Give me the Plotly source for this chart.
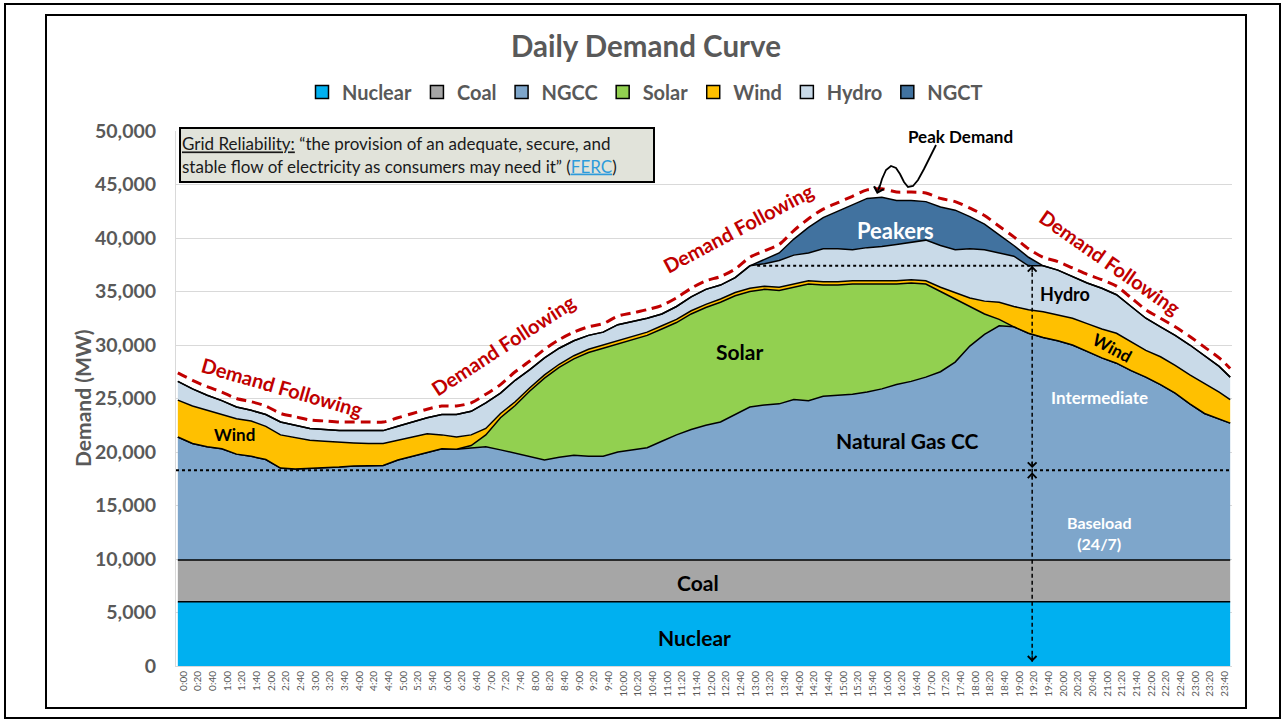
import numpy as np
import plotly.graph_objects as go

# ---- data (MW), sampled every 20 minutes from 0:00 to 23:40, plus the 23:55 end point
minutes = list(range(0, 1440, 20)) + [1435]

nuclear = [
    6000, 6000, 6000, 6000, 6000, 6000, 6000, 6000, 6000, 6000, 6000, 6000,
    6000, 6000, 6000, 6000, 6000, 6000, 6000, 6000, 6000, 6000, 6000, 6000,
    6000, 6000, 6000, 6000, 6000, 6000, 6000, 6000, 6000, 6000, 6000, 6000,
    6000, 6000, 6000, 6000, 6000, 6000, 6000, 6000, 6000, 6000, 6000, 6000,
    6000, 6000, 6000, 6000, 6000, 6000, 6000, 6000, 6000, 6000, 6000, 6000,
    6000, 6000, 6000, 6000, 6000, 6000, 6000, 6000, 6000, 6000, 6000, 6000,
    6000,
]
coal = [
    3900, 3900, 3900, 3900, 3900, 3900, 3900, 3900, 3900, 3900, 3900, 3900,
    3900, 3900, 3900, 3900, 3900, 3900, 3900, 3900, 3900, 3900, 3900, 3900,
    3900, 3900, 3900, 3900, 3900, 3900, 3900, 3900, 3900, 3900, 3900, 3900,
    3900, 3900, 3900, 3900, 3900, 3900, 3900, 3900, 3900, 3900, 3900, 3900,
    3900, 3900, 3900, 3900, 3900, 3900, 3900, 3900, 3900, 3900, 3900, 3900,
    3900, 3900, 3900, 3900, 3900, 3900, 3900, 3900, 3900, 3900, 3900, 3900,
    3900,
]
ngcc = [
    11500, 10900, 10600, 10400, 9900, 9700, 9400, 8600, 8500, 8550, 8600, 8700,
    8800, 8850, 8850, 9350, 9700, 10100, 10400, 10350, 10500, 10600, 10300, 10000,
    9700, 9350, 9600, 9800, 9700, 9700, 10100, 10300, 10500, 11100, 11700, 12200,
    12600, 12900, 13600, 14300, 14500, 14600, 15000, 14900, 15300, 15400, 15500, 15700,
    16000, 16400, 16700, 17100, 17600, 18500, 20000, 21100, 21900, 21800, 21200, 20800,
    20500, 20100, 19500, 18900, 18400, 17700, 17100, 16400, 15600, 14600, 13700, 13200,
    12800,
]
solar = [
    0, 0, 0, 0, 0, 0, 0, 0, 0, 0, 0, 0,
    0, 0, 0, 0, 0, 0, 0, 0, 200, 1100, 3000, 4450,
    6100, 7650, 8400, 9000, 9700, 10100, 10100, 10300, 10500, 10500, 10500, 10800,
    11000, 11200, 11100, 10800, 10800, 10600, 10500, 10900, 10400, 10300, 10300, 10100,
    9800, 9400, 9200, 8700, 7500, 5900, 3700, 1900, 600, 0, 0, 0,
    0, 0, 0, 0, 0, 0, 0, 0, 0, 0, 0, 0,
    0,
]
wind = [
    3450, 3500, 3400, 3200, 3300, 3300, 3100, 3100, 2950, 2650, 2500, 2300,
    2150, 2050, 2050, 1850, 1800, 1700, 1300, 1150, 1000, 600, 400, 350,
    300, 300, 300, 300, 300, 300, 300, 300, 300, 300, 300, 300,
    300, 300, 300, 300, 300, 300, 300, 300, 300, 300, 300, 300,
    300, 300, 300, 300, 400, 600, 800, 1200, 1600, 1900, 2200, 2400,
    2400, 2500, 2600, 2700, 2800, 2700, 2500, 2600, 2600, 2700, 2800, 2500,
    2200,
]
hydro = [
    1750, 1600, 1400, 1300, 1100, 1000, 1100, 1200, 1150, 1100, 1100, 1100,
    1150, 1200, 1200, 1300, 1400, 1500, 1900, 2100, 2200, 2400, 1900, 2000,
    1700, 1600, 1500, 1400, 1300, 1200, 1500, 1400, 1300, 1100, 1200, 1300,
    1400, 1300, 1400, 2100, 2100, 2500, 2700, 2600, 3100, 3100, 2900, 3100,
    3200, 3400, 3500, 3800, 3900, 4000, 4600, 4800, 4600, 4700, 4100, 4300,
    4200, 3900, 3800, 3800, 3600, 3300, 3000, 2800, 2800, 2800, 2600, 2400,
    2100,
]
ngct = [
    0, 0, 0, 0, 0, 0, 0, 0, 0, 0, 0, 0,
    0, 0, 0, 0, 0, 0, 0, 0, 0, 0, 0, 0,
    0, 0, 0, 0, 0, 0, 0, 0, 0, 0, 0, 0,
    0, 0, 0, 0, 400, 700, 1500, 2400, 2900, 3500, 4200, 4600,
    4600, 4100, 3900, 3600, 3600, 3700, 3000, 2400, 1700, 1000, 800, 0,
    0, 0, 0, 0, 0, 0, 0, 0, 0, 0, 0, 0,
    0,
]

series_names = ["Nuclear", "Coal", "NGCC", "Solar", "Wind", "Hydro", "NGCT"]
series_colors = ["#00B0F0", "#A6A6A6", "#7EA6CB", "#92D050", "#FFC000", "#C9DAE8", "#41729F"]

tick_minutes = list(range(0, 1440, 20))
tick_labels = [f"{m // 60}:{m % 60:02d}" for m in tick_minutes]

baseload_mw = 18300
hydro_level_mw = 37400
marker_minute = 1165
chevron_minutes = [100, 220, 365, 540, 725, 860, 925, 1045, 1125, 1200, 1300, 1365, 1430]

# ---- page geometry (pixels)
W, H = 1283, 721
L, R, T, B = 176, 1232, 131, 666
GREY = "#595959"
RED = "#C00000"
FONT = "Lato"


def paper(xp, yp):
    return (xp - L) / (R - L), (B - yp) / (B - T)


fig = go.Figure()

all_series = [nuclear, coal, ngcc, solar, wind, hydro, ngct]
for name, vals, color in zip(series_names, all_series, series_colors):
    fig.add_trace(go.Scatter(
        x=minutes, y=vals, name=name, stackgroup="one", mode="lines",
        line=dict(color="black", width=1.5), fillcolor=color,
        showlegend=False, hoverinfo="skip",
    ))

# legend entries as square markers
for name, color in zip(series_names, series_colors):
    fig.add_trace(go.Scatter(
        x=[None], y=[None], name=f"<b>{name}</b>", mode="markers",
        marker=dict(symbol="square", size=13, color=color, line=dict(color="black", width=1.5)),
    ))

# demand-following dashed line, riding above the total
total = np.sum(np.array(all_series), axis=0)
offset = 800
fig.add_trace(go.Scatter(
    x=minutes, y=total + offset, mode="lines", showlegend=False, hoverinfo="skip",
    line=dict(color=RED, width=3, dash="10px,6px", shape="spline", smoothing=0.8),
))

annotations = []
for m in chevron_minutes:
    yv = np.interp(m, minutes, total) + offset
    yb = np.interp(m - 4, minutes, total) + offset
    annotations.append(dict(
        x=m, y=yv, ax=m - 4, ay=yb, xref="x", yref="y", axref="x", ayref="y",
        text="", showarrow=True, arrowhead=4, arrowsize=1.25, arrowwidth=2.5, arrowcolor=RED,
    ))

# vertical baseload / intermediate arrows
for y_tip, pointing_up in [(hydro_level_mw, True), (baseload_mw + 200, False),
                           (baseload_mw - 200, True), (400, False)]:
    annotations.append(dict(
        x=marker_minute, y=y_tip, xref="x", yref="y", text="", showarrow=True,
        ax=0, ay=8 if pointing_up else -8, arrowhead=4, arrowsize=1.3,
        arrowwidth=1.3, arrowcolor="black",
    ))


def label(text, xp, yp, size, color="black", angle=0, bold=True):
    xx, yy = paper(xp, yp)
    annotations.append(dict(
        text=f"<b>{text}</b>" if bold else text, x=xx, y=yy, xref="paper", yref="paper",
        showarrow=False, textangle=angle, xanchor="center", yanchor="middle",
        font=dict(family=FONT, size=size, color=color),
    ))


label("Daily Demand Curve", 646, 45, 29.5, GREY)
label("Demand (MW)", 82, 398, 21, GREY, angle=-90)
label("Peak Demand", 960, 136, 17)
label("Peakers", 895, 230, 22, "white")
label("Hydro", 1065, 294, 18)
label("Solar", 739, 351, 21)
label("Wind", 234, 434, 17)
label("Wind", 1112, 347, 17, angle=28)
label("Intermediate", 1099, 397, 17, "white")
label("Natural Gas CC", 907, 440, 21)
label("Baseload<br>(24/7)", 1099, 533, 16, "white")
label("Coal", 698, 582, 21)
label("Nuclear", 694, 637, 21)
label("Demand Following", 282, 387, 20, RED, angle=16)
label("Demand Following", 503, 345, 20, RED, angle=-33)
label("Demand Following", 738, 228, 20, RED, angle=-28)
label("Demand Following", 1110, 262, 20, RED, angle=35)

bx, by = paper(417, 155)
annotations.append(dict(
    x=bx, y=by, xref="paper", yref="paper", showarrow=False, align="left",
    xanchor="center", yanchor="middle",
    width=470, height=50, bgcolor="#E1E3DA", bordercolor="black", borderwidth=2, borderpad=1,
    font=dict(family=FONT, size=17, color="#1A1A1A"),
    text=("<u>Grid Reliability:</u> \u201cthe provision of an adequate, secure, and<br>"
          "stable flow of electricity as consumers may need it\u201d "
          "(<span style='color:#2E9BDB'><u>FERC</u></span>)"),
))

# peak-demand pointer arrowhead
tx, ty = paper(877, 194)
annotations.append(dict(
    x=tx, y=ty, xref="paper", yref="paper", ax=3, ay=-10, text="", showarrow=True,
    arrowhead=4, arrowsize=1.3, arrowwidth=1.5, arrowcolor="black",
))


def path_px(points):
    parts = []
    for i, (xp, yp) in enumerate(points):
        xx, yy = paper(xp, yp)
        parts.append(("M" if i == 0 else "L") + f"{xx:.5f},{yy:.5f}")
    return " ".join(parts)


shapes = [
    # chart frames
    dict(type="rect", xref="paper", yref="paper",
         x0=paper(5, 0)[0], x1=paper(1280, 0)[0], y0=paper(0, 4)[1], y1=paper(0, 718)[1],
         line=dict(color="black", width=2), layer="above"),
    dict(type="rect", xref="paper", yref="paper",
         x0=paper(46, 0)[0], x1=paper(1246, 0)[0], y0=paper(0, 15)[1], y1=paper(0, 708)[1],
         line=dict(color="black", width=2), layer="above"),
    # baseload and hydro dotted levels
    dict(type="line", xref="paper", yref="y", x0=0, x1=1, y0=baseload_mw, y1=baseload_mw,
         line=dict(color="black", width=2, dash="dot")),
    dict(type="line", xref="x", yref="y", x0=790, x1=marker_minute, y0=hydro_level_mw, y1=hydro_level_mw,
         line=dict(color="black", width=2, dash="dot")),
    # vertical dashed markers
    dict(type="line", xref="x", yref="y", x0=marker_minute, x1=marker_minute,
         y0=hydro_level_mw, y1=400, line=dict(color="black", width=1.5, dash="4px,3px")),
    # peak demand pointer
    dict(type="path", xref="paper", yref="paper",
         path=path_px([(936, 145), (930, 157), (924, 169), (918, 180), (913, 186), (908, 187),
                       (904, 182), (900, 174), (896, 168), (891, 166), (886, 170), (882, 179),
                       (879, 189)]),
         line=dict(color="black", width=1.8)),
]

fig.update_layout(
    width=W, height=H,
    margin=dict(l=L, r=W - R, t=T, b=H - B, autoexpand=False),
    paper_bgcolor="white", plot_bgcolor="white",
    font=dict(family=FONT, color=GREY),
    showlegend=True,
    legend=dict(
        orientation="h", traceorder="normal",
        x=paper(645, 0)[0], y=paper(0, 92)[1], xanchor="center", yanchor="middle",
        font=dict(family=FONT, size=20, color=GREY),
        itemwidth=30, tracegroupgap=0, bgcolor="rgba(0,0,0,0)",
    ),
    xaxis=dict(
        range=[-2.5, 1437.5], tickmode="array",
        tickvals=[m + 7.5 for m in tick_minutes], ticktext=tick_labels,
        tickangle=-90, tickfont=dict(family=FONT, size=10, color=GREY),
        showgrid=False, zeroline=False, showline=True, linecolor="#D9D9D9", ticks="",
    ),
    yaxis=dict(
        range=[0, 50000], dtick=5000, tickformat=",", ticks="", ticklabelstandoff=15,
        tickfont=dict(family=FONT, size=19.5, color=GREY, weight="bold"),
        showgrid=True, gridcolor="#D9D9D9", gridwidth=1, zeroline=False,
        showline=True, linecolor="#D9D9D9",
    ),
    annotations=annotations,
    shapes=shapes,
    hovermode=False,
)

fig.write_html(
    "out.html",
    config={"displayModeBar": False},
    post_script="document.body.style.margin='0px';document.body.style.overflow='hidden';",
)
